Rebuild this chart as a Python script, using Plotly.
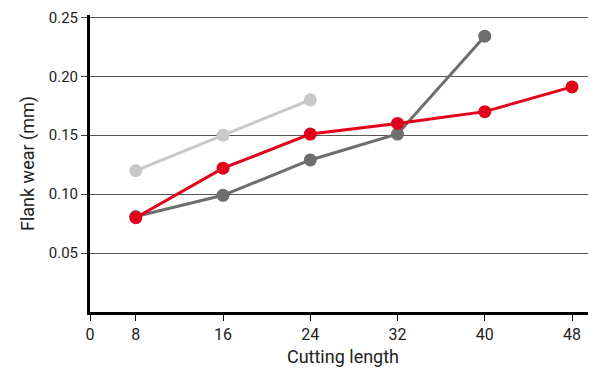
import plotly.graph_objects as go

# cutting length positions
lengths = [8, 16, 24, 32, 40, 48]

# flank wear (mm) per series
light_gray = [0.120, 0.150, 0.180]
dark_gray = [0.081, 0.099, 0.129, 0.151, 0.234]
red = [0.080, 0.122, 0.151, 0.160, 0.170, 0.191]

x_ticks = [3.8, 8, 16, 24, 32, 40, 48]
x_labels = ["0", "8", "16", "24", "32", "40", "48"]
y_ticks = [0.05, 0.10, 0.15, 0.20, 0.25]

fig = go.Figure()
for vals, col in [(light_gray, "#c8c8c8"), (dark_gray, "#6e6e6e"), (red, "#e2001a")]:
    fig.add_trace(go.Scatter(
        x=lengths[:len(vals)], y=vals, mode="lines+markers",
        line=dict(color=col, width=3),
        marker=dict(color=col, size=13),
        showlegend=False, cliponaxis=False,
    ))

# page body has an 8px margin, so the figure is a bit smaller than the window
font = dict(family="Roboto, sans-serif", size=15, color="#222")
fig.update_layout(
    width=588, height=361,
    margin=dict(l=82, r=0, t=7, b=57),
    plot_bgcolor="white", paper_bgcolor="white",
    font=font,
)
fig.update_xaxes(
    range=[3.8, 50.2], tickvals=x_ticks, ticktext=x_labels,
    tickfont=dict(size=16),
    showline=True, linecolor="black", linewidth=3,
    ticks="outside", ticklen=6, tickcolor="black", tickwidth=1,
    showgrid=False, zeroline=False, automargin=False,
    title=dict(text="Cutting length", standoff=8, font=dict(size=18)),
)
# top of range a touch above 0.25 so the 0.25 gridline is drawn
fig.update_yaxes(
    range=[0, 0.252], tickvals=y_ticks, tickformat=".2f",
    tickfont=dict(size=15),
    showline=True, linecolor="black", linewidth=3,
    ticks="outside", ticklen=6, tickcolor="#444", tickwidth=1,
    showgrid=True, gridcolor="#555", gridwidth=1, zeroline=False,
    automargin=False,
    title=dict(text="Flank wear (mm)", standoff=10, font=dict(size=18)),
)

fig.write_html("out.html")
